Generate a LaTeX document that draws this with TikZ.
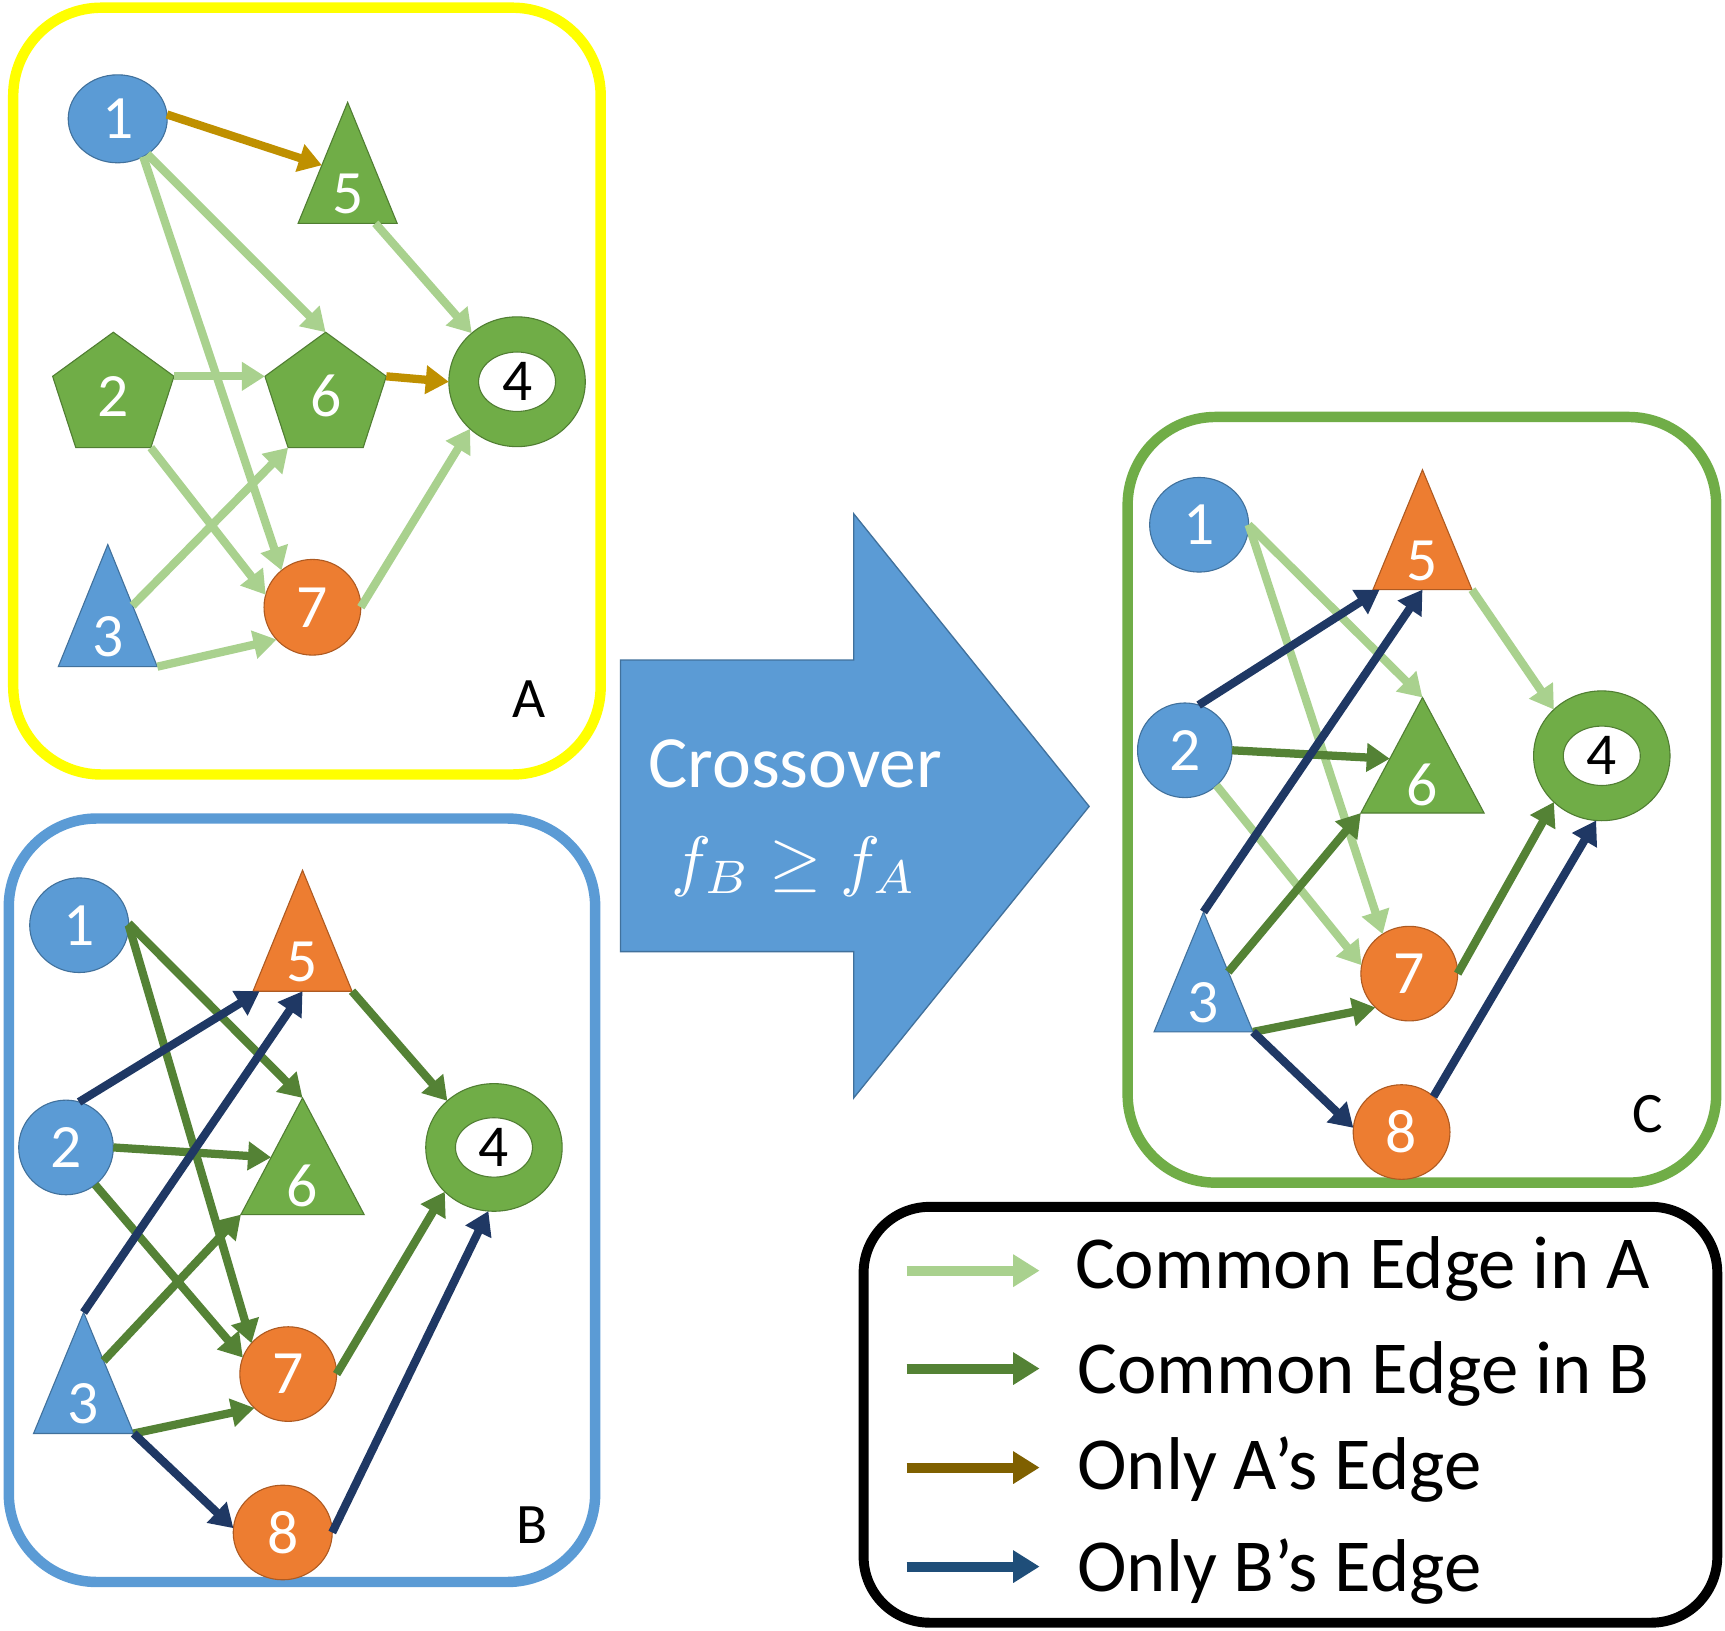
\documentclass[tikz,border=0pt]{standalone}
\usepackage{fontspec}
\setmainfont{Carlito}
\usepackage{graphicx}
\usetikzlibrary{shapes.geometric,arrows.meta,calc}
\definecolor{blu}{HTML}{5B9BD5}
\definecolor{blud}{HTML}{41719C}
\definecolor{org}{HTML}{ED7D31}
\definecolor{orgd}{HTML}{AE5A21}
\definecolor{grn}{HTML}{70AD47}
\definecolor{grnd}{HTML}{507E32}
\definecolor{yel}{HTML}{FFFF00}
\definecolor{cmA}{HTML}{A9D18E}
\definecolor{cmB}{HTML}{548235}
\definecolor{onA}{HTML}{BF9000}
\definecolor{onB}{HTML}{1F3864}
\definecolor{legA}{HTML}{7F6000}
\definecolor{legB}{HTML}{1F4E79}
\newcommand\trishape[3]{\filldraw[fill=#2, draw=#3, line width=1pt] (#1.north) -- (#1.south west) -- (#1.south east) -- cycle;}
\begin{document}
\begin{tikzpicture}[x=1pt,y=-1pt,
  num/.style={text=white, font=\fontsize{56}{60}\selectfont, inner sep=0},
  ell/.style 2 args={ellipse, minimum width=#1, minimum height=#2, inner sep=0, outer sep=0, line width=1pt, text=white, font=\fontsize{56}{60}\selectfont},
  bnode/.style={fill=blu, draw=blud},
  onode/.style={fill=org, draw=orgd},
  tri/.style 2 args={rectangle, minimum width=#1, minimum height=#2, inner sep=0, outer sep=0},
  pent/.style={regular polygon, regular polygon sides=5, minimum size=116, inner sep=0, outer sep=0, fill=grn, draw=grnd, line width=1pt, text=white, font=\fontsize{56}{60}\selectfont},
  ring/.style={ellipse, fill=grn, draw=grnd, line width=1pt, minimum width=124, minimum height=118, inner sep=0, outer sep=0},
  ringin/.style={ellipse, fill=white, draw=grnd, line width=1pt, minimum width=70, minimum height=54, inner sep=0, outer sep=0, text=black, font=\fontsize{54}{60}\selectfont},
  edge/.style={line width=7.5pt, -{Triangle[length=21pt,width=25pt]}},
  eAc/.style={edge, draw=cmA},
  eBc/.style={edge, draw=cmB},
  eAo/.style={edge, draw=onA},
  eBo/.style={edge, draw=onB},
  legarrow/.style={line width=9pt, -{Triangle[length=24pt,width=28pt]}},
  legtxt/.style={font=\fontsize{68}{72}\selectfont, text=black, inner sep=0, anchor=base west},
  plabel/.style={font=\fontsize{52}{56}\selectfont, text=black, inner sep=0, anchor=base},
  frame/.style={line width=9.5pt, rounded corners=80pt}
]
\useasboundingbox (0,0) rectangle (1568,1482);
\fill[white] (0,0) rectangle (1568,1482);

% frames
\draw[frame, draw=yel] (12,7) rectangle (546,704);
\draw[frame, draw=blu] (8,744) rectangle (541,1438);
\draw[frame, draw=grn] (1025,379) rectangle (1560,1075);
\draw[line width=9pt, rounded corners=60pt] (785,1097) rectangle (1561,1475);

% big arrow
\filldraw[fill=blu, draw=blud, line width=1.2pt] (564,600) -- (776,600) -- (776,467) -- (990,733) -- (776,998) -- (776,865) -- (564,865) -- cycle;
\node[font=\fontsize{67}{70}\selectfont, text=white, anchor=base, inner sep=0] (X1) at (723,716) {Crossover};
\node[text=white, inner sep=0] (X2) at (722,788) {\scalebox{6.1}{$f_B \geq f_A$}};

% ---------- Panel A ----------
\node[ell={90}{80}, bnode] (A1) at (107,108) {1};
\node[tri={90}{110}] (A5) at (316,148) {};
\trishape{A5}{grn}{grnd}
\node[num] (A5t) at ($(A5)+(0,28)$) {5};
\node[pent] (A2) at (103,360) {2};
\node[pent] (A6) at (296,360) {6};
\node[ring] (A4) at (470,347) {};
\node[ringin] (A4i) at (A4) {4};
\node[ell={88}{87}, onode] (A7) at (284,552) {7};
\node[tri={90}{111}] (A3) at (98,550.5) {};
\trishape{A3}{blu}{blud}
\node[num] (A3t) at ($(A3)+(0,28)$) {3};
\node[plabel] (LA) at (481,652) {A};

\draw[eAo] (A1.5) -- ($(A5.south west)!0.48!(A5.north)$);
\draw[eAc] (A1.-50) -- (A6.corner 1);
\draw[eAc] (A1.-56) -- (A7.130);
\draw[eAc] (A2.corner 5) -- (A6.corner 2);
\draw[eAc] (A2.corner 4) -- (A7.165);
\draw[eAc] ($(A3.south east)!0.5!(A3.north)$) -- (A6.corner 3);
\draw[eAc] (A3.south east) -- (A7.222);
\draw[eAc] ($(A5.south west)!0.78!(A5.south east)$) -- (A4.133);
\draw[eAo] (A6.corner 5) -- (A4.west);
\draw[eAc] (A7.east) -- (A4.225);

% ---------- Panel B ----------
\node[ell={90}{86}, bnode] (B1) at (72,841) {1};
\node[tri={90}{110}] (B5) at (275,846) {};
\trishape{B5}{org}{orgd}
\node[num] (B5t) at ($(B5)+(0,28)$) {5};
\node[ell={86}{86}, bnode] (B2) at (60,1043) {2};
\node[tri={112}{106}] (B6) at (275,1051) {};
\trishape{B6}{grn}{grnd}
\node[num] (B6t) at ($(B6)+(0,27)$) {6};
\node[ring, minimum height=116] (B4) at (449,1043) {};
\node[ringin] (B4i) at (B4) {4};
\node[tri={91}{110}] (B3) at (76,1248) {};
\trishape{B3}{blu}{blud}
\node[num] (B3t) at ($(B3)+(0,28)$) {3};
\node[ell={88}{86}, onode] (B7) at (262,1249) {7};
\node[ell={90}{86}, onode] (B8) at (257,1393) {8};
\node[plabel] (LB) at (484,1403) {B};

\draw[eBc] (B1.2) -- (B6.north);
\draw[eBc] (B1.0) -- (B7.140);
\draw[eBo] (B2.74) -- ($(B5.south west)+(6,0)$);
\draw[eBc] (B2.east) -- ($(B6.south west)!0.49!(B6.north)$);
\draw[eBc] (B2.-52) -- (B7.160);
\draw[eBo] (B3.north) -- (B5.south);
\draw[eBc] ($(B3.south east)!0.6!(B3.north)$) -- (B6.south west);
\draw[eBc] (B3.south east) -- (B7.225);
\draw[eBo] (B3.south east) -- (B8.175);
\draw[eBc] (B5.south east) -- (B4.135);
\draw[eBc] (B7.east) -- (B4.222);
\draw[eBo] (B8.0) -- (B4.265);

% ---------- Panel C ----------
\node[ell={90}{86}, bnode] (C1) at (1090,477) {1};
\node[tri={90}{109}] (C5) at (1293,481.5) {};
\trishape{C5}{org}{orgd}
\node[num] (C5t) at ($(C5)+(0,28)$) {5};
\node[ell={86}{86}, bnode] (C2) at (1077,682) {2};
\node[tri={112}{105}] (C6) at (1293,686.5) {};
\trishape{C6}{grn}{grnd}
\node[num] (C6t) at ($(C6)+(0,27)$) {6};
\node[ring] (C4) at (1456,687) {};
\node[ringin] (C4i) at (C4) {4};
\node[tri={90}{109}] (C3) at (1094,883.5) {};
\trishape{C3}{blu}{blud}
\node[num] (C3t) at ($(C3)+(0,28)$) {3};
\node[ell={88}{86}, onode] (C7) at (1281,885) {7};
\node[ell={88}{86}, onode] (C8) at (1274,1029) {8};
\node[plabel] (LC) at (1498,1029) {C};

\draw[eAc] (C1.east) -- (C6.north);
\draw[eAc] (C1.east) -- (C7.124);
\draw[eBo] (C2.73) -- ($(C5.south west)+(6,0)$);
\draw[eBc] (C2.east) -- ($(C6.south west)!0.47!(C6.north)$);
\draw[eAc] (C2.-48) -- (C7.170);
\draw[eBo] (C3.north) -- (C5.south);
\draw[eBc] ($(C3.south east)!0.5!(C3.north)$) -- (C6.south west);
\draw[eBc] (C3.south east) -- (C7.225);
\draw[eBo] (C3.south east) -- (C8.175);
\draw[eAc] (C5.south east) -- (C4.136);
\draw[eBc] (C7.east) -- (C4.224);
\draw[eBo] (C8.48) -- (C4.265);

% ---------- Legend ----------
\coordinate (L1s) at (824,1155); \coordinate (L1e) at (945,1155);
\coordinate (L2s) at (824,1244); \coordinate (L2e) at (945,1244);
\coordinate (L3s) at (824,1334); \coordinate (L3e) at (945,1334);
\coordinate (L4s) at (824,1424); \coordinate (L4e) at (945,1424);
\draw[legarrow, draw=cmA] (L1s) -- (L1e);
\draw[legarrow, draw=cmB] (L2s) -- (L2e);
\draw[legarrow, draw=legA] (L3s) -- (L3e);
\draw[legarrow, draw=legB] (L4s) -- (L4e);
\node[legtxt] (T1) at (977,1171) {Common Edge in A};
\node[legtxt] (T2) at (979,1267) {Common Edge in B};
\node[legtxt] (T3) at (979,1354) {Only A’s Edge};
\node[legtxt] (T4) at (979,1447) {Only B’s Edge};
\end{tikzpicture}
\end{document}
